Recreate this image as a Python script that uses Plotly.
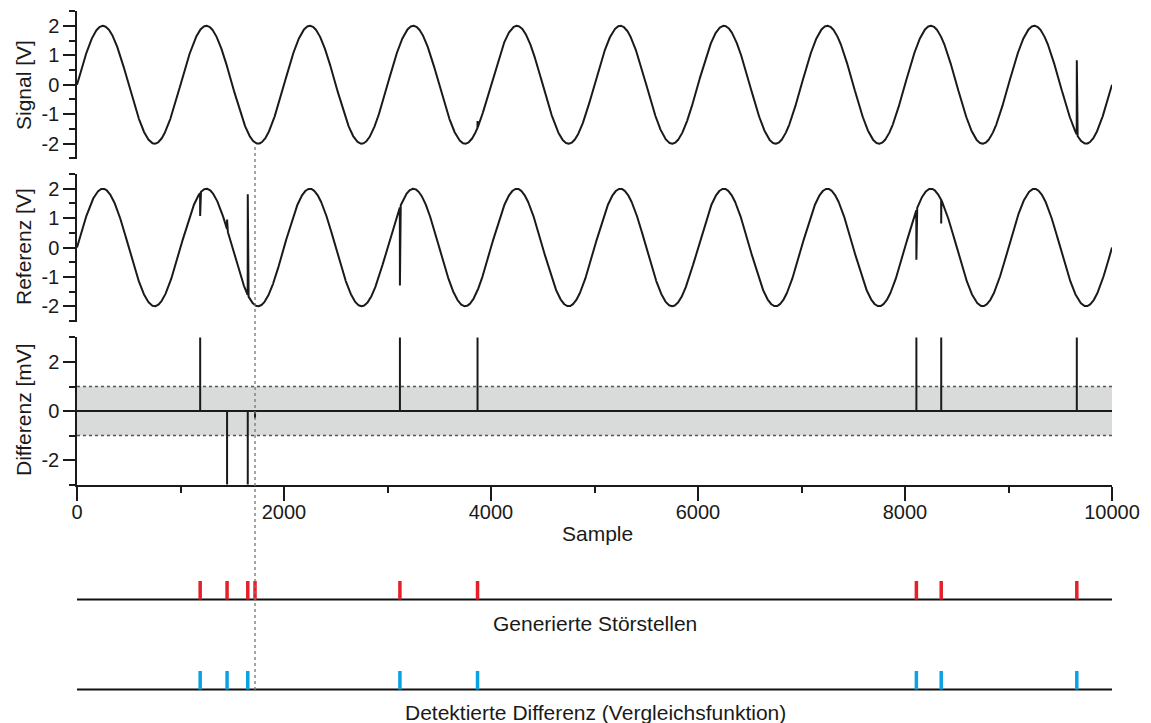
import numpy as np
import plotly.graph_objects as go

# ---------------- data ----------------
n_samples = 10000
amplitude_V = 2.0
period_samples = 1000

# single-sample disturbances (sample index, level in V)
sig_glitch_samples = [3870, 9660]
sig_glitch_values = [-1.23, 0.83]
ref_glitch_samples = [1190, 1450, 1650, 3120, 8110, 8350]
ref_glitch_values = [1.07, 0.95, 1.81, -1.29, -0.42, 0.82]

# difference panel (as displayed, mV, clipped to axis)
diff_samples = [1190, 1450, 1650, 1720, 3120, 3870, 8110, 8350, 9660]
diff_values_mV = [3, -3, -3, -0.3, 3, 3, 3, 3, 3]
tolerance_mV = 1.0

generated_events = [1190, 1450, 1650, 1720, 3120, 3870, 8110, 8350, 9660]
detected_events = [1190, 1450, 1650, 3120, 3870, 8110, 8350, 9660]
marker_sample = 1720

x_ticks = [0, 2000, 4000, 6000, 8000, 10000]
x_ticktext = ["0", "2000", "4000", "6000", "8000", "10000"]
x_minor = [1000, 3000, 5000, 7000, 9000]
v_ticks = [-2, -1, 0, 1, 2]
v_ticktext = ["-2", "-1", "0", "1", "2"]
v_minor = [-2.5, -1.5, -0.5, 0.5, 1.5, 2.5]
d_ticks = [-2, 0, 2]
d_ticktext = ["-2", "0", "2"]
d_minor = [-3, -1, 1, 3]

# ---------------- build ----------------
n = np.arange(n_samples + 1)
base = amplitude_V * np.sin(2 * np.pi * n / period_samples)
signal = base.copy()
signal[sig_glitch_samples] = sig_glitch_values
reference = base.copy()
reference[ref_glitch_samples] = ref_glitch_values

dx, dy = [0], [0]
for s, v in sorted(zip(diff_samples, diff_values_mV)):
    dx += [s, s, s]
    dy += [0, v, 0]
dx.append(n_samples)
dy.append(0)

def event_xy(events):
    xs, ys = [], []
    for e in events:
        xs += [e, e, None]
        ys += [0, 1, None]
    return xs, ys

BLACK = "#1a1a1a"
RED = "#e4202a"
BLUE = "#0aa2e0"
FONT = "Liberation Sans, Arial, sans-serif"

fig = go.Figure()
fig.add_trace(go.Scatter(x=n, y=signal, mode="lines", line=dict(color=BLACK, width=2),
                         xaxis="x", yaxis="y", hoverinfo="skip"))
fig.add_trace(go.Scatter(x=n, y=reference, mode="lines", line=dict(color=BLACK, width=2),
                         xaxis="x2", yaxis="y2", hoverinfo="skip"))
fig.add_trace(go.Scatter(x=dx, y=dy, mode="lines", line=dict(color=BLACK, width=2),
                         xaxis="x3", yaxis="y3", hoverinfo="skip"))

# event rows
for events, color, xa, ya in [(generated_events, RED, "x4", "y4"),
                              (detected_events, BLUE, "x5", "y5")]:
    fig.add_trace(go.Scatter(x=[0, n_samples], y=[0, 0], mode="lines",
                             line=dict(color="#111111", width=1.8), xaxis=xa, yaxis=ya,
                             hoverinfo="skip"))
    ex, ey = event_xy(events)
    fig.add_trace(go.Scatter(x=ex, y=ey, mode="lines", line=dict(color=color, width=3.5),
                             xaxis=xa, yaxis=ya, hoverinfo="skip"))

W, H = 1151, 723
def py(p):
    return 1 - p / H

xdom = [77 / W, 1112 / W]
hidden_x = dict(domain=xdom, range=[0, n_samples], visible=False, fixedrange=True)
TICKFONT = dict(size=20, color=BLACK, family=FONT)

def v_axis(dom):
    return dict(domain=dom, range=[-2.52, 2.52], tickmode="array", tickvals=v_ticks,
                ticktext=v_ticktext,
                ticks="outside", ticklen=12, tickwidth=1.5, tickcolor=BLACK,
                showline=True, linecolor=BLACK, linewidth=1.5, showgrid=False,
                zeroline=False, tickfont=TICKFONT,
                minor=dict(tickmode="array", tickvals=v_minor, ticks="outside",
                           ticklen=6, tickwidth=1.5, tickcolor=BLACK, showgrid=False),
                ticklabelstandoff=0, automargin=False)

# event row: baseline at 0 (pixel base), tick top at 1; range padded below 0
ev_pad = 0.2
ev_px = 18.5  # pixels per unit

fig.update_layout(
    width=W, height=H,
    margin=dict(l=0, r=0, t=0, b=0, autoexpand=False),
    paper_bgcolor="white", plot_bgcolor="rgba(0,0,0,0)",
    showlegend=False,
    font=dict(family=FONT, size=20, color=BLACK),
    xaxis=dict(hidden_x, anchor="y"),
    xaxis2=dict(hidden_x, anchor="y2"),
    xaxis3=dict(domain=xdom, range=[0, n_samples], anchor="y3",
                tickmode="array", tickvals=x_ticks, ticktext=x_ticktext,
                ticks="outside", ticklen=14,
                tickwidth=1.5, tickcolor=BLACK, showline=True, linecolor=BLACK,
                linewidth=1.5, showgrid=False, zeroline=False, tickfont=TICKFONT,
                minor=dict(tickmode="array", tickvals=x_minor, ticks="outside",
                           ticklen=6, tickwidth=1.5, tickcolor=BLACK, showgrid=False),
                ticklabelstandoff=-6, automargin=False),
    xaxis4=dict(hidden_x, anchor="y4"),
    xaxis5=dict(hidden_x, anchor="y5"),
    yaxis=dict(v_axis([py(159), py(10.5)]), anchor="x"),
    yaxis2=dict(v_axis([py(321.5), py(173.5)]), anchor="x2"),
    yaxis3=dict(domain=[py(485), py(337)], anchor="x3", range=[-3.02, 3.02],
                tickmode="array", tickvals=d_ticks, ticktext=d_ticktext,
                ticks="outside", ticklen=12,
                tickwidth=1.5, tickcolor=BLACK, showline=True, linecolor=BLACK,
                linewidth=1.5, showgrid=False, zeroline=False, tickfont=TICKFONT,
                minor=dict(tickmode="array", tickvals=d_minor, ticks="outside",
                           ticklen=6, tickwidth=1.5, tickcolor=BLACK, showgrid=False),
                ticklabelstandoff=0, automargin=False),
    yaxis4=dict(domain=[py(599.5 + ev_pad * ev_px), py(581)], anchor="x4",
                range=[-ev_pad, 1], visible=False),
    yaxis5=dict(domain=[py(689.5 + ev_pad * ev_px), py(671)], anchor="x5",
                range=[-ev_pad, 1], visible=False),
)

# tolerance band
fig.add_shape(type="rect", xref="x3", yref="y3", x0=0, x1=n_samples,
              y0=-tolerance_mV, y1=tolerance_mV, fillcolor="#d9dada",
              line=dict(width=0), layer="below")
for yv in (-tolerance_mV, tolerance_mV):
    fig.add_shape(type="line", xref="x3", yref="y3", x0=0, x1=n_samples, y0=yv, y1=yv,
                  line=dict(color="#555555", width=1.5, dash="dot"), layer="below")

# dotted marker line for undetected disturbance
fig.add_shape(type="line", xref="x3", yref="paper", x0=marker_sample, x1=marker_sample,
              y0=py(690), y1=py(144), line=dict(color="#777777", width=1.3, dash="dot"))

def label(text, xp, yp, angle=0, size=21):
    fig.add_annotation(text=text, x=xp / W, y=py(yp), xref="paper", yref="paper",
                       showarrow=False, textangle=angle, xanchor="center",
                       yanchor="middle", font=dict(size=size, color=BLACK, family=FONT))

label("Signal [V]", 23, 85, -90)
label("Referenz [V]", 23, 247, -90)
label("Differenz [mV]", 23, 410, -90)
label("Sample", 597, 533)
label("Generierte Störstellen", 595, 623)
label("Detektierte Differenz (Vergleichsfunktion)", 595, 712)

fig.write_html("out.html")
